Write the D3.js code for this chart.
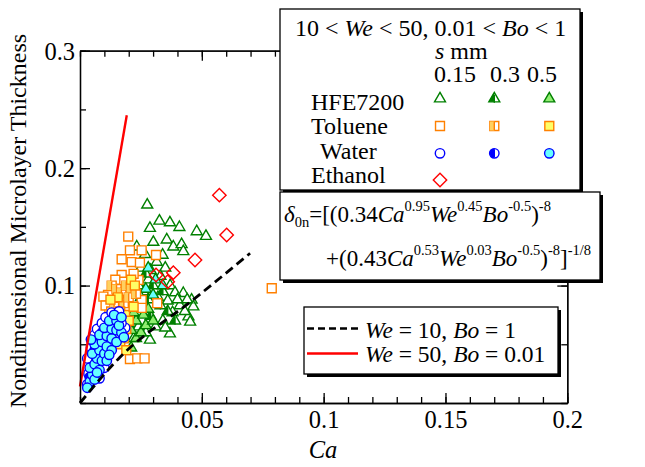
<!DOCTYPE html>
<html>
<head>
<meta charset="utf-8">
<script src="https://cdn.jsdelivr.net/npm/d3@7"></script>
<style>
  body { margin: 0; background: #fff; }
  svg text { fill: #000; }
</style>
</head>
<body>
<div id="chart"></div>
<script>
// ---- data: [Ca, thickness] ----
const hfeOpen = [[0.0276,0.1687],[0.0326,0.155],[0.0369,0.1536],[0.0408,0.1496],[0.0479,0.146],[0.0517,0.142],
  [0.0287,0.1488],[0.0301,0.137],[0.0356,0.139],[0.0383,0.133],[0.0417,0.135],[0.0424,0.129],[0.0233,0.133],
  [0.0267,0.1266],[0.0424,0.0934],[0.0458,0.0877],[0.0465,0.082],[0.0445,0.0735],[0.0452,0.069],[0.0369,0.059],
  [0.0287,0.0537],[0.0339,0.126],[0.0315,0.12],[0.035,0.115],[0.029,0.113],[0.033,0.108],[0.037,0.1],[0.039,0.094],
  [0.036,0.087],[0.041,0.083],[0.038,0.077],[0.034,0.07],[0.031,0.065],[0.027,0.06],[0.024,0.065],[0.04,0.088],
  [0.028,0.105],[0.025,0.115],[0.043,0.078],[0.032,0.09],[0.026,0.095],[0.022,0.055],[0.044,0.088],[0.035,0.064]];
const hfeHalf = [[0.03,0.1],[0.034,0.095],[0.028,0.088],[0.036,0.078],[0.025,0.082],[0.029,0.074],[0.033,0.083],
  [0.039,0.07],[0.027,0.11],[0.024,0.1]];
const hfeFull = [[0.021,0.047],[0.023,0.055],[0.025,0.06],[0.021,0.062],[0.027,0.066],[0.023,0.07],[0.026,0.075],
  [0.03,0.07],[0.02,0.068],[0.028,0.08],[0.022,0.077]];
const hfeCyan = [[0.028,0.115],[0.031,0.105],[0.027,0.097],[0.03,0.092],[0.034,0.1],[0.025,0.09]];

const tolOpen = [[0.0198,0.1417],[0.0205,0.130],[0.0171,0.1224],[0.0253,0.130],[0.0212,0.120],[0.0246,0.1195],
  [0.0312,0.126],[0.0171,0.109],[0.0178,0.1033],[0.0240,0.1048],[0.0135,0.096],[0.0115,0.092],[0.0096,0.0906],
  [0.0253,0.0877],[0.0253,0.081],[0.0317,0.085],[0.0205,0.0375],[0.0235,0.038],[0.0265,0.038],[0.0787,0.0977],
  [0.0145,0.105],[0.019,0.094],[0.022,0.11],[0.0105,0.083],[0.0128,0.078],[0.0152,0.085]];
const tolHalf = [[0.013,0.1],[0.015,0.097],[0.017,0.094],[0.019,0.1],[0.021,0.097],[0.016,0.088],[0.018,0.085],
  [0.02,0.09],[0.023,0.093],[0.014,0.082],[0.012,0.075],[0.0135,0.07],[0.015,0.072]];
const tolFull = [[0.0165,0.078],[0.0185,0.075],[0.0175,0.068],[0.019,0.063],[0.0165,0.06],[0.018,0.055],[0.02,0.07],
  [0.022,0.082],[0.0155,0.09],[0.0125,0.088],[0.021,0.105],[0.0225,0.1],[0.011,0.066],[0.014,0.063],[0.0165,0.05],
  [0.019,0.045]];

const watOpen = [[0.003,0.016],[0.0035,0.025],[0.005,0.035],[0.0045,0.047],[0.006,0.058],[0.007,0.063],[0.009,0.068],
  [0.0105,0.073],[0.013,0.077],[0.016,0.078],[0.008,0.021],[0.01,0.03],[0.003,0.038],[0.0185,0.064]];
const watHalf = [[0.004,0.022],[0.006,0.045],[0.009,0.06],[0.012,0.067],[0.014,0.058],[0.017,0.068],[0.01,0.047],
  [0.007,0.031]];
const watFull = [[0.004,0.018],[0.005,0.024],[0.006,0.02],[0.004,0.03],[0.006,0.033],[0.008,0.028],[0.007,0.038],
  [0.009,0.036],[0.005,0.042],[0.008,0.045],[0.010,0.042],[0.006,0.05],[0.009,0.052],[0.011,0.048],[0.013,0.045],
  [0.008,0.058],[0.011,0.057],[0.013,0.055],[0.015,0.052],[0.010,0.064],[0.013,0.063],[0.015,0.062],[0.017,0.060],
  [0.012,0.070],[0.015,0.070],[0.016,0.066],[0.014,0.075],[0.017,0.073],[0.011,0.036],[0.012,0.041],[0.007,0.026],
  [0.018,0.056],[0.003,0.013],[0.0045,0.054]];

const ethanol = [[0.0572,0.177],[0.0602,0.143],[0.0472,0.1218],[0.0383,0.111],[0.0312,0.109],[0.036,0.1033]];

const lineWe10 = [[0,0],[0.0164,0.039],[0.0465,0.088],[0.0698,0.1275]];
const lineWe50 = [[0,0.014],[0.0192,0.245]];

const xTicks = [0.05, 0.1, 0.15, 0.2];
const yTicks = [0.1, 0.2, 0.3];
const gapLabels = ["0.15", "0.3", "0.5"];
const fluids = ["HFE7200", "Toluene", "Water", "Ethanol"];

// ---- layout ----
const svg = d3.select('#chart').append('svg').attr('width', 645).attr('height', 467)
  .style('font-family', '"Liberation Serif", "Times New Roman", serif');

const x = d3.scaleLinear().domain([0, 0.2]).range([80, 567.3]);
const y = d3.scaleLinear().domain([0, 0.3]).range([403, 50.7]);

const green = '#008000', orange = '#ff8000', blue = '#0000ff', red = '#ff0000';

// clip for half-filled markers (in marker-local coords)
svg.append('defs').append('clipPath').attr('id', 'lefthalf')
  .append('rect').attr('x', -20).attr('y', -20).attr('width', 20).attr('height', 40);

const shapes = {
  tri: d3.symbol().type(d3.symbolTriangle).size(52)(),
  sq: d3.symbol().type(d3.symbolSquare).size(80)(),
  circ: d3.symbol().type(d3.symbolCircle).size(70)(),
  dia: d3.symbol().type(d3.symbolSquare).size(90)()
};

function drawMarkers(parent, data, shape, stroke, fill, half) {
  const g = parent.append('g').selectAll('g').data(data).enter().append('g')
    .attr('transform', d => `translate(${x(d[0])},${y(d[1])})` + (shape === 'dia' ? ' rotate(45)' : ''));
  g.append('path').attr('d', shapes[shape])
    .attr('fill', fill).attr('stroke', stroke).attr('stroke-width', 1.4);
  if (half) {
    g.append('path').attr('d', shapes[shape]).attr('clip-path', 'url(#lefthalf)')
      .attr('fill', half).attr('stroke', 'none');
    g.append('line').attr('x1', 0).attr('x2', 0).attr('y1', -4).attr('y2', 4)
      .attr('stroke', stroke).attr('stroke-width', 1.4);
  }
  return g;
}

const plot = svg.append('g');
drawMarkers(plot, hfeOpen, 'tri', green, '#fff');
drawMarkers(plot, hfeHalf, 'tri', green, '#fff', green);
drawMarkers(plot, hfeCyan, 'tri', green, '#66ffff');
drawMarkers(plot, hfeFull, 'tri', green, '#90ee70');
drawMarkers(plot, tolOpen, 'sq', orange, '#fff');
drawMarkers(plot, tolHalf, 'sq', orange, '#fff', '#ffd060');
drawMarkers(plot, tolFull, 'sq', orange, '#ffff66');
drawMarkers(plot, watOpen, 'circ', blue, '#fff');
drawMarkers(plot, watHalf, 'circ', blue, '#fff', blue);
drawMarkers(plot, watFull, 'circ', blue, '#66ffff');
drawMarkers(plot, ethanol, 'dia', red, 'none');

const line = d3.line().x(d => x(d[0])).y(d => y(d[1])).curve(d3.curveMonotoneX);
plot.append('path').attr('d', line(lineWe10)).attr('fill', 'none')
  .attr('stroke', '#000').attr('stroke-width', 2.8).attr('stroke-dasharray', '9,5');
plot.append('path').attr('d', line(lineWe50)).attr('fill', 'none')
  .attr('stroke', red).attr('stroke-width', 2.4);

// ---- frame with inward ticks ----
const xMinor = d3.range(0, 0.2001, 0.01), yMinor = d3.range(0, 0.3001, 0.05);
function frame(axisFn, scale, pos, minor, major, labels) {
  const g1 = svg.append('g').attr('transform', pos)
    .call(axisFn(scale).tickValues(minor).tickSize(-6).tickSizeOuter(0).tickFormat(''));
  const g2 = svg.append('g').attr('transform', pos)
    .call(axisFn(scale).tickValues(major).tickSize(-10).tickSizeOuter(0).tickFormat(labels ? d => String(d) : ''));
  [g1, g2].forEach(g => {
    g.attr('font-family', null).attr('font-size', null);
    g.selectAll('line,path').attr('stroke', '#000').attr('stroke-width', 1.3);
  });
  return g2;
}
const bottom = frame(d3.axisBottom, x, `translate(0,${y(0)})`, xMinor, xTicks, true);
bottom.selectAll('text').attr('y', 8).attr('dy', '0.71em').style('font-size', '24.5px');
frame(d3.axisTop, x, `translate(0,${y(0.3)})`, xMinor, xTicks, false);
const left = frame(d3.axisLeft, y, `translate(${x(0)},0)`, yMinor, yTicks, true);
left.selectAll('text').attr('x', -5).attr('dy', '0.34em').style('font-size', '24.5px');
frame(d3.axisRight, y, `translate(${x(0.2)},0)`, yMinor, yTicks, false);

svg.append('text').attr('x', 323).attr('y', 458).attr('text-anchor', 'middle')
  .style('font-size', '24.5px').style('font-style', 'italic').text('Ca');
svg.append('text').attr('transform', 'translate(26,221) rotate(-90)').attr('text-anchor', 'middle')
  .style('font-size', '24px').text('Nondimensional Microlayer Thickness');

// rich text: segments [text, italic, shift] where shift is the baseline offset in px (negative = up)
function rich(xp, yp, size, segs, small) {
  const t = svg.append('text').attr('x', xp).attr('y', yp).style('font-size', size + 'px');
  let cur = 0;
  segs.forEach(s => {
    const shift = s[2] || 0;
    const sp = t.append('tspan').attr('dy', shift - cur).text(s[0]);
    if (s[1]) sp.style('font-style', 'italic');
    if (shift !== 0) sp.style('font-size', (small || size * 0.64) + 'px');
    cur = shift;
  });
  return t;
}

// ---- legend boxes ----
function box(x0, y0, w, h) {
  svg.append('rect').attr('x', x0 + 3).attr('y', y0 + 3).attr('width', w).attr('height', h).attr('fill', '#000');
  svg.append('rect').attr('x', x0).attr('y', y0).attr('width', w).attr('height', h)
    .attr('fill', '#fff').attr('stroke', '#000').attr('stroke-width', 1.3);
}

box(280, 9, 300, 181);
rich(295, 36, 24, [['10 < '], ['We', true], [' < 50, 0.01 < '], ['Bo', true], [' < 1']]);
rich(435, 59, 24, [['s', true], [' mm']]);
const colX = [440, 494.3, 549.3];
const colLabX = [434, 490, 527];
gapLabels.forEach((s, i) => {
  svg.append('text').attr('x', colLabX[i]).attr('y', 82).style('font-size', '24px').text(s);
});
const rowY = [98.7, 126, 153.3, 180];
const rowBase = [110, 134, 159, 183];
const rowLabX = [311, 311, 320, 311];
fluids.forEach((f, i) => {
  svg.append('text').attr('x', rowLabX[i]).attr('y', rowBase[i]).style('font-size', '24px').text(f);
});
const legendMarks = [
  ['tri', green, '#fff', null, 0, 0], ['tri', green, '#fff', green, 1, 0], ['tri', green, '#90ee70', null, 2, 0],
  ['sq', orange, '#fff', null, 0, 1], ['sq', orange, '#fff', '#ffd060', 1, 1], ['sq', orange, '#ffff66', null, 2, 1],
  ['circ', blue, '#fff', null, 0, 2], ['circ', blue, '#fff', blue, 1, 2], ['circ', blue, '#66ffff', null, 2, 2],
  ['dia', red, 'none', null, 0, 3]
];
legendMarks.forEach(m => {
  const g = svg.append('g')
    .attr('transform', `translate(${colX[m[4]]},${rowY[m[5]]})` + (m[0] === 'dia' ? ' rotate(45)' : ''));
  g.append('path').attr('d', shapes[m[0]]).attr('fill', m[2]).attr('stroke', m[1]).attr('stroke-width', 1.4);
  if (m[3]) {
    g.append('path').attr('d', shapes[m[0]]).attr('clip-path', 'url(#lefthalf)').attr('fill', m[3]);
    g.append('line').attr('x1', 0).attr('x2', 0).attr('y1', -4).attr('y2', 4)
      .attr('stroke', m[1]).attr('stroke-width', 1.4);
  }
});

// formula box
box(280, 192, 320, 88);
rich(284, 222, 23, [['δ', true], ['0n', false, 5], ['=[(0.34'], ['Ca', true], ['0.95', false, -11], ['We', true],
  ['0.45', false, -11], ['Bo', true], ['-0.5', false, -11], [')'], ['-8', false, -11]], 14.5);
rich(326, 266, 23, [['+(0.43'], ['Ca', true], ['0.53', false, -11], ['We', true], ['0.03', false, -11], ['Bo', true],
  ['-0.5', false, -11], [')'], ['-8', false, -11], [']'], ['-1/8', false, -11]], 14.5);

// line legend
box(304, 307, 254, 67);
svg.append('line').attr('x1', 307).attr('x2', 358).attr('y1', 328.5).attr('y2', 328.5)
  .attr('stroke', '#000').attr('stroke-width', 2.6).attr('stroke-dasharray', '7,4');
svg.append('line').attr('x1', 307).attr('x2', 358).attr('y1', 353.5).attr('y2', 353.5)
  .attr('stroke', red).attr('stroke-width', 2.4);
rich(365, 338, 23.5, [['We', true], [' = 10, '], ['Bo', true], [' = 1']]);
rich(365, 362, 23.5, [['We', true], [' = 50, '], ['Bo', true], [' = 0.01']]);
</script>
</body>
</html>
